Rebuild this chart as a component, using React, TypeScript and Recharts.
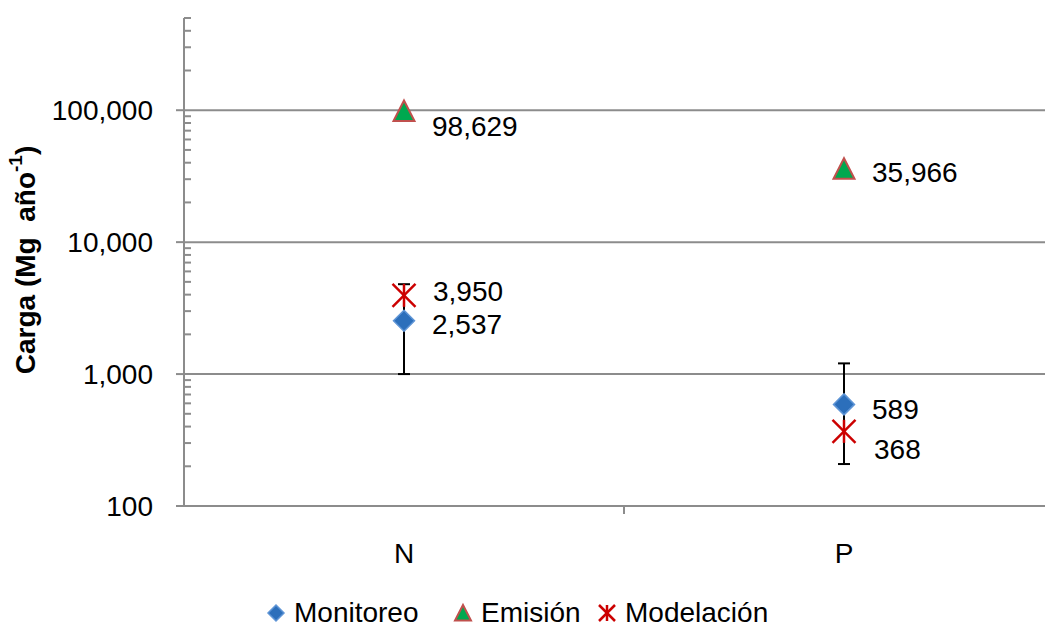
import {
    ComposedChart,
    ErrorBar,
    LabelList,
    Legend,
    Line,
    ReferenceLine,
    XAxis,
    YAxis,
} from "recharts";

const categories = ["N", "P"];
const monitoreo = [2537, 589];
const monitoreoLow = [1000, 208];
const monitoreoHigh = [4800, 1205];
const emision = [98629, 35966];
const modelacion = [3950, 368];

const majorTicks = [100, 1000, 10000, 100000];
const minorSteps = [2, 3, 4, 5, 6, 7, 8, 9];
const topValue = 500000;

const FONT = "Liberation Sans";
const GRAY = "#8c8c8c";
const AXIS_X = 184;
const BAND = 440;

const data = categories.map((cat, i) => ({
    cat,
    monitoreo: monitoreo[i],
    monErr: [monitoreo[i] - monitoreoLow[i], monitoreoHigh[i] - monitoreo[i]],
    emision: emision[i],
    modelacion: modelacion[i],
}));

const allTicks = [
    ...majorTicks,
    ...majorTicks.flatMap((m) => minorSteps.map((s) => m * s)),
].filter((v) => v <= topValue).sort((a, b) => a - b);

// label placement next to each marker (dx, baseline dy)
const labelOffsets: Record<string, [number, number][]> = {
    monitoreo: [[28, 13], [28, 15]],
    emision: [[28, 25], [28, 13]],
    modelacion: [[29, 6], [30, 28]],
};

function Diamond({ cx, cy, s = 10.5 }: any) {
    if (cx == null || cy == null) return null;
    return (
        <polygon
            points={`${cx},${cy - s} ${cx + s},${cy} ${cx},${cy + s} ${cx - s},${cy}`}
            fill="#2c6fbb"
            stroke="#5f95d6"
            strokeWidth={1.5}
        />
    );
}

function Triangle({ cx, cy, s = 10.5 }: any) {
    if (cx == null || cy == null) return null;
    return (
        <polygon
            points={`${cx},${cy - s} ${cx + s},${cy + s * 0.95} ${cx - s},${cy + s * 0.95}`}
            fill="#00a84f"
            stroke="#c0504d"
            strokeWidth={2}
        />
    );
}

function Star({ cx, cy, s = 11.5 }: any) {
    if (cx == null || cy == null) return null;
    return (
        <g stroke="#cc0000" strokeWidth={2.5}>
            <line x1={cx - s} y1={cy - s} x2={cx + s} y2={cy + s} />
            <line x1={cx - s} y1={cy + s} x2={cx + s} y2={cy - s} />
            <line x1={cx} y1={cy - s} x2={cx} y2={cy + s} />
        </g>
    );
}

function makeLabel(key: string) {
    return (props: any) => {
        const { x, y, value, index } = props;
        const [dx, dy] = labelOffsets[key][index];
        return (
            <text
                x={x + dx}
                y={y + dy}
                fontFamily={FONT}
                fontSize={28}
                fill="#000"
            >
                {Number(value).toLocaleString("en-US")}
            </text>
        );
    };
}

function YTick({ x, y, payload }: any) {
    const v = payload.value;
    const major = majorTicks.includes(v);
    if (!major) {
        return <line x1={AXIS_X} x2={AXIS_X + 7} y1={y} y2={y} stroke={GRAY} strokeWidth={2} />;
    }
    return (
        <g>
            <line x1={AXIS_X - 8} x2={AXIS_X} y1={y} y2={y} stroke={GRAY} strokeWidth={2} />
            <text x={x} y={y + 10} textAnchor="end" fontFamily={FONT} fontSize={28} fill="#000">
                {v.toLocaleString("en-US")}
            </text>
        </g>
    );
}

function XTick({ x, y, payload, index }: any) {
    return (
        <g>
            {index === 0 && (
                <line x1={x + BAND / 2} x2={x + BAND / 2} y1={y - 8} y2={y} stroke={GRAY} strokeWidth={2} />
            )}
            <text x={x} y={y + 49} textAnchor="middle" fontFamily={FONT} fontSize={28} fill="#000">
                {payload.value}
            </text>
        </g>
    );
}

function YTitle({ viewBox }: any) {
    const cy = viewBox.y + viewBox.height / 2 - 2;
    return (
        <text
            transform={`translate(25, ${cy}) rotate(-90)`}
            textAnchor="middle"
            dominantBaseline="central"
            fontFamily={FONT}
            fontSize={28}
            fontWeight="bold"
            fill="#000"
            style={{ whiteSpace: "pre" }}
        >
            Carga (Mg  año
            <tspan dy={-10} fontSize={19}>-1</tspan>
            <tspan dy={10}>)</tspan>
        </text>
    );
}

const legendItems = [
    { name: "Monitoreo", left: 265, icon: <Diamond cx={11} cy={15} s={8} /> },
    { name: "Emisión", left: 452, icon: <Triangle cx={11} cy={15} s={8} /> },
    { name: "Modelación", left: 596, icon: <Star cx={11} cy={15} s={8} /> },
];

function LegendContent() {
    return (
        <div style={{ position: "relative", height: 30 }}>
            {legendItems.map((it) => (
                <div
                    key={it.name}
                    style={{
                        position: "absolute",
                        left: it.left,
                        top: 0,
                        display: "flex",
                        alignItems: "center",
                        height: 30,
                    }}
                >
                    <svg width={22} height={30}>{it.icon}</svg>
                    <span
                        style={{
                            marginLeft: 7,
                            fontFamily: FONT,
                            fontSize: 28,
                            lineHeight: "30px",
                            color: "#000",
                        }}
                    >
                        {it.name}
                    </span>
                </div>
            ))}
        </div>
    );
}

export default function App() {
    return (
        <div
            style={{
                margin: "-8px -8px 0 -8px",
                width: 1053,
                height: 629,
                overflow: "hidden",
                position: "relative",
                background: "#fff",
            }}
        >
            <ComposedChart
                width={1064}
                height={629}
                data={data}
                margin={{ top: 18, right: 0, bottom: 63, left: 0 }}
            >
                <XAxis
                    dataKey="cat"
                    type="category"
                    scale="band"
                    height={60}
                    axisLine={{ stroke: GRAY, strokeWidth: 2 }}
                    tickLine={false}
                    tick={<XTick />}
                />
                <YAxis
                    type="number"
                    scale="log"
                    domain={[100, topValue]}
                    allowDataOverflow
                    ticks={allTicks}
                    interval={0}
                    width={184}
                    tickSize={8}
                    tickMargin={23}
                    axisLine={{ stroke: GRAY, strokeWidth: 2 }}
                    tickLine={false}
                    tick={<YTick />}
                    label={<YTitle />}
                />
                {majorTicks.slice(1).map((v) => (
                    <ReferenceLine key={v} y={v} stroke={GRAY} strokeWidth={2} />
                ))}
                <Legend
                    verticalAlign="middle"
                    align="center"
                    wrapperStyle={{ top: 598, left: 0, width: 1053 }}
                    content={<LegendContent />}
                />
                <Line
                    dataKey="monitoreo"
                    name="Monitoreo"
                    stroke="none"
                    dot={<Diamond />}
                    activeDot={false}
                    isAnimationActive={false}
                >
                    <ErrorBar dataKey="monErr" width={6} stroke="#000" strokeWidth={2} direction="y" />
                    <LabelList dataKey="monitoreo" content={makeLabel("monitoreo")} />
                </Line>
                <Line
                    dataKey="emision"
                    name="Emisión"
                    stroke="none"
                    dot={<Triangle />}
                    activeDot={false}
                    isAnimationActive={false}
                >
                    <LabelList dataKey="emision" content={makeLabel("emision")} />
                </Line>
                <Line
                    dataKey="modelacion"
                    name="Modelación"
                    stroke="none"
                    dot={<Star />}
                    activeDot={false}
                    isAnimationActive={false}
                >
                    <LabelList dataKey="modelacion" content={makeLabel("modelacion")} />
                </Line>
            </ComposedChart>
        </div>
    );
}
